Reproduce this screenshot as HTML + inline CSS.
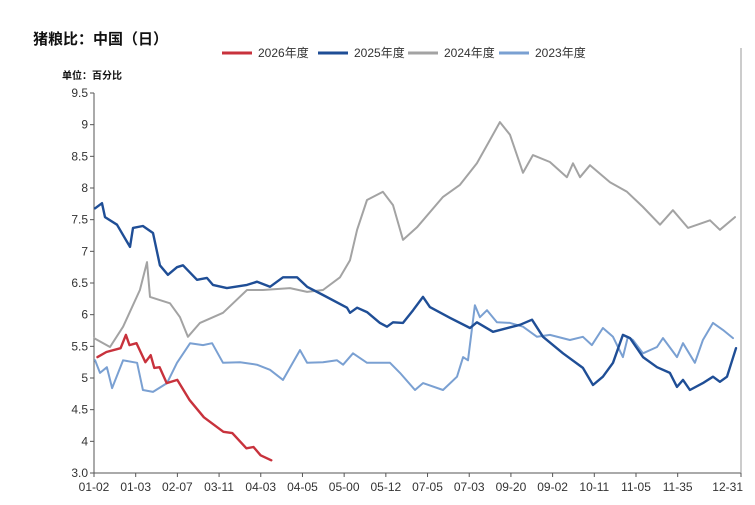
<!DOCTYPE html>
<html><head><meta charset="utf-8">
<style>
html,body{margin:0;padding:0;background:#fff;}
body{width:755px;height:500px;overflow:hidden;font-family:"Liberation Sans","Noto Sans CJK SC",sans-serif;}
svg text{font-family:"Liberation Sans","Noto Sans CJK SC",sans-serif;}
</style></head>
<body>
<svg id="chart" width="755" height="500">
  <text x="33" y="44" font-size="15" font-weight="bold" fill="#111">猪粮比：中国（日）</text>
  <text x="62" y="79" font-size="10" font-weight="bold" fill="#111">单位：百分比</text>
  <g id="legend"></g>
  <g id="axes"></g>
  <g id="series"></g>
</svg>
<script>
const yTickLabels = ["9.5","9","8.5","8","7.5","7","6.5","6","5.5","5","4.5","4","3.0"];
const yTickValues = [9.5,9,8.5,8,7.5,7,6.5,6,5.5,5,4.5,4,3.5];
const xTickLabels = ["01-02","01-03","02-07","03-11","04-03","04-05","05-00","05-12","07-05","07-03","09-20","09-02","10-11","11-05","11-35","12-31"];
const seriesNames = ["2026年度","2025年度","2024年度","2023年度"];

const days2026 = [2,7,15,18,20,24,29,32,34,37,41,47,54,62,73,78,86,90,94,100];
const vals2026 = [5.33,5.41,5.47,5.68,5.52,5.55,5.25,5.36,5.16,5.17,4.92,4.97,4.65,4.38,4.15,4.13,3.89,3.91,3.78,3.70];

const days2025 = [0.6,4.5,6.2,13,20.3,22,27.6,33.3,37.2,41.7,46.8,50.2,58.1,63.7,67.1,75,86.3,92,99.3,106.6,114.5,120.2,129.2,142.7,144.4,148.4,154,161.3,165.3,168.7,174.3,180,185.6,189.5,200.8,212.1,216,225.1,240.3,247.1,253.3,264.6,275.8,281.5,287.1,292.8,298.4,302.4,309.7,317.6,324.9,328.9,332.3,336.2,343.5,349.2,353.1,357.1,362.2];
const vals2025 = [7.68,7.76,7.54,7.42,7.07,7.37,7.40,7.29,6.78,6.63,6.75,6.78,6.55,6.58,6.47,6.42,6.47,6.52,6.44,6.59,6.59,6.44,6.31,6.11,6.03,6.11,6.04,5.87,5.81,5.88,5.87,6.07,6.28,6.12,5.95,5.79,5.88,5.73,5.84,5.92,5.65,5.39,5.16,4.89,5.02,5.24,5.68,5.63,5.33,5.17,5.08,4.86,4.97,4.81,4.92,5.02,4.94,5.02,5.47];

const days2024 = [0,9,16.4,25.9,29.9,31.6,42.9,48.5,53,59.8,72.8,78.4,86.3,95.3,110.6,120.2,129.2,138.8,144.4,148.4,154,163,168.7,174.3,182.2,196.9,206.5,216,223.4,229,234.7,242,247.6,257.2,266.8,270.2,274.2,279.8,291.1,300.7,309.7,319.3,326.6,335.1,347.5,353.1,361.6];
const vals2024 = [5.63,5.49,5.81,6.39,6.83,6.28,6.18,5.96,5.65,5.87,6.03,6.18,6.39,6.39,6.42,6.36,6.39,6.59,6.86,7.34,7.81,7.94,7.73,7.18,7.38,7.86,8.05,8.39,8.76,9.04,8.84,8.24,8.52,8.41,8.17,8.39,8.17,8.36,8.09,7.94,7.70,7.42,7.65,7.37,7.49,7.34,7.54];

const days2023 = [0.6,3.4,7.3,10.2,16.4,24.3,27.6,33.3,41.2,46.8,54.2,61.5,66.6,72.8,82.4,91.9,99.3,106.6,116.2,120.2,129.2,137.1,140.5,146.1,154,167,172.6,181.1,185.6,196.9,204.8,208.2,211,214.9,217.7,221.7,227.3,234.7,242,249.9,257.2,268.5,275.8,280.9,287.1,292.8,298.4,301.2,304,309.7,317.6,321,328.9,332.3,339,343.5,349.2,354.8,360.5];
const vals2023 = [5.28,5.08,5.17,4.84,5.28,5.24,4.81,4.78,4.92,5.24,5.55,5.52,5.55,5.24,5.25,5.21,5.13,4.97,5.44,5.24,5.25,5.28,5.21,5.39,5.24,5.24,5.08,4.81,4.92,4.81,5.02,5.33,5.28,6.15,5.96,6.07,5.88,5.87,5.81,5.65,5.68,5.60,5.65,5.52,5.79,5.65,5.33,5.65,5.60,5.39,5.49,5.63,5.33,5.55,5.24,5.60,5.87,5.76,5.63];

const NS = "http://www.w3.org/2000/svg";
const X0 = 94, X1 = 741, Y0 = 93, Y1 = 473;
const xScale = d => X0 + d / 365 * (X1 - X0);
const yScale = v => Y0 + (9.5 - v) / 6 * (Y1 - Y0);
function mk(tag, attrs, parent) {
  const e = document.createElementNS(NS, tag);
  for (const k in attrs) e.setAttribute(k, attrs[k]);
  parent.appendChild(e);
  return e;
}
const axes = document.getElementById('axes');
const yAxis = mk('line', {x1: X0, y1: Y0, x2: X0, y2: Y1, stroke: '#555', 'stroke-width': 1}, axes);


const xAxis = mk('line', {x1: X0, y1: Y1, x2: X1, y2: Y1, stroke: '#555', 'stroke-width': 1}, axes);


const rBorder = mk('line', {x1: X1, y1: Y0 - 45, x2: X1, y2: Y1, stroke: '#999', 'stroke-width': 1}, axes);



yTickValues.forEach((v, i) => {
  const y = yScale(v);
  const t = mk('line', {x1: X0 - 4, y1: y, x2: X0, y2: y, stroke: '#555'}, axes);
  
  
  const lb = mk('text', {x: X0 - 6, y: y + 4, 'font-size': 12, fill: '#333', 'text-anchor': 'end'}, axes);
  lb.textContent = yTickLabels[i];
  
  
});
xTickLabels.forEach((s, i) => {
  const d = i === xTickLabels.length - 1 ? 365 : i * 23.52;
  const x = xScale(d);
  const t = mk('line', {x1: x, y1: Y1, x2: x, y2: Y1 + 4, stroke: '#555'}, axes);
  
  
  const lb = mk('text', {x: i === xTickLabels.length - 1 ? x + 2 : x, y: Y1 + 18, 'font-size': 12, fill: '#333', 'text-anchor': i === xTickLabels.length - 1 ? 'end' : 'middle'}, axes);
  lb.textContent = s;
  
  
});

const colors = ['#c8323c', '#1f4e96', '#a3a3a3', '#7aa0d2'];
const widths = [2.4, 2.4, 2, 2];
const allDays = [days2026, days2025, days2024, days2023];
const allVals = [vals2026, vals2025, vals2024, vals2023];
const seriesG = document.getElementById('series');
for (let s = 3; s >= 0; s--) {
  const pts = allDays[s].map((d, i) => xScale(d).toFixed(1) + ',' + yScale(allVals[s][i]).toFixed(1)).join(' ');
  const pl = mk('polyline', {points: pts, fill: 'none', stroke: colors[s], 'stroke-width': widths[s], 'stroke-linejoin': 'round', 'stroke-linecap': 'round'}, seriesG);
  
  
}

const legend = document.getElementById('legend');
const legX = [222, 318, 408, 499];
seriesNames.forEach((n, i) => {
  const ln = mk('line', {x1: legX[i], y1: 53, x2: legX[i] + 30, y2: 53, stroke: colors[i], 'stroke-width': 3}, legend);
  
  
  const tx = mk('text', {x: legX[i] + 36, y: 57, 'font-size': 12, fill: '#333'}, legend);
  tx.textContent = n;
  
  
});
</script>
</body></html>
